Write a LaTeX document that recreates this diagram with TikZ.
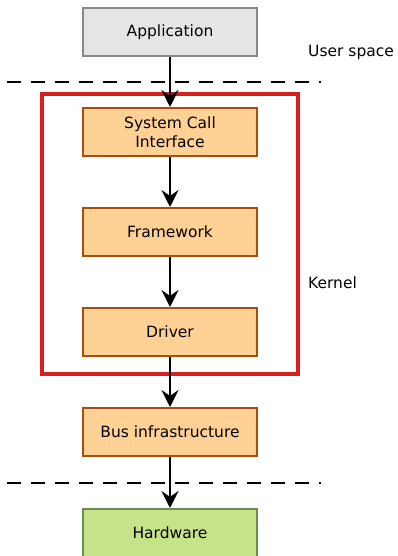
\documentclass[tikz,border=0pt]{standalone}
\usepackage{fontspec}
\setmainfont{DejaVu Sans}
\usetikzlibrary{arrows.meta}

\definecolor{appfill}{HTML}{E5E5E5}
\definecolor{appdraw}{HTML}{888888}
\definecolor{kfill}{HTML}{FFD195}
\definecolor{kdraw}{HTML}{A94E0C}
\definecolor{hwfill}{HTML}{C6E38A}
\definecolor{hwdraw}{HTML}{6E8B50}
\definecolor{kred}{HTML}{D2211F}

\begin{document}
\begin{tikzpicture}[x=1pt, y=-1pt, font=\fontsize{15.5}{19}\selectfont]
                            \tikzset{layer/.style={draw, shape=rectangle, line width=2pt, minimum width=174pt, minimum height=48pt, inner sep=0pt, align=center},
                                     kern/.style={layer, fill=kfill, draw=kdraw},
                                     flow/.style={line width=2.8pt, -{Stealth[length=17pt, width=17pt, inset=6pt]}},
                                     border/.style={dashed, line width=2.5pt, dash pattern=on 14pt off 10pt},
                                     side/.style={anchor=west, inner sep=0pt}}
                            \useasboundingbox (0, 0) rectangle (398, 556);

                            \node[layer, fill=appfill, draw=appdraw] (app) at (170, 32){Application};
                            \node[kern] (sci) at (170, 132){System Call\\Interface};
                            \node[kern] (fw) at (170, 232){Framework};
                            \node[kern] (drv) at (170, 332){Driver};
                            \node[kern] (bus) at (170, 432){Bus infrastructure};
                            \node[layer, fill=hwfill, draw=hwdraw] (hw) at (170, 533){Hardware};

                            \draw[kred, line width=4.5pt] (42, 94) rectangle (298, 374);
                            \draw[border] (7, 82) -- (321, 82);
                            \draw[border] (7, 483) -- (321, 483);

                            \node[side] (user) at (308, 52){User space};
                            \node[side] (kernel) at (308, 283){Kernel};

                            \draw[flow] (app) -- (sci);
                            \draw[flow] (sci) -- (fw);
                            \draw[flow] (fw) -- (drv);
                            \draw[flow] (drv) -- (bus);
                            \draw[flow] (bus) -- (hw);
                        \end{tikzpicture}
\end{document}
